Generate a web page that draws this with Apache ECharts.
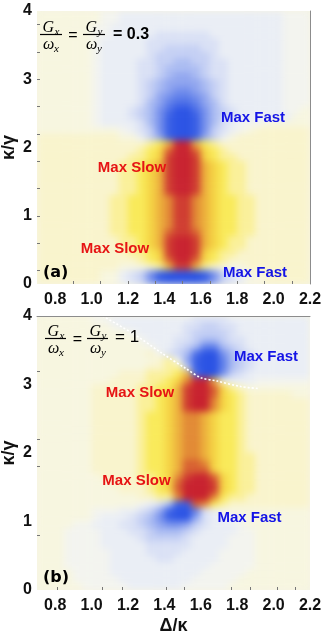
<!DOCTYPE html>
<html>
<head>
    <meta charset="utf-8">
    <script src="https://cdn.jsdelivr.net/npm/echarts@6/dist/echarts.min.js"></script>
    <style>
        html, body { margin: 0; padding: 0; background: #fff; }
        #stage { position: relative; width: 327px; height: 639px; }
        .panel { position: absolute; overflow: hidden; background: #f5f4e4; }
        .heat { width: 100%; height: 100%; filter: blur(3.5px); }
        #main { position: absolute; left: 0; top: 0; width: 327px; height: 639px; }
    </style>
</head>
<body>
<div id="stage">
    <div class="panel" style="left: 37px; top: 11px; width: 273px; height: 273px;"><div id="heatA" class="heat"></div></div>
    <div class="panel" style="left: 37px; top: 316px; width: 273px; height: 274px;"><div id="heatB" class="heat"></div></div>
    <div id="main"></div>
</div>
<script type="text/javascript">
    // axis labels and frame ticks (Δ/κ horizontally, κ/γ vertically)
    var xLabels = [0.8, 1.0, 1.2, 1.4, 1.6, 1.8, 2.0, 2.2];
    var yLabels = [0, 1, 2, 3, 4];
    var xTicksA = [0.9, 1.05, 1.2, 1.35, 1.5, 1.65, 1.8, 1.95, 2.1];
    var yTicksA = [0.2, 0.6, 1.0, 1.4, 1.8, 2.2, 2.6, 3.0, 3.4, 3.8];
    var xTicksB = [0.81, 1.06, 1.17, 1.41, 1.51, 1.77, 1.87, 2.02, 2.12];
    var yTicksB = [0.8, 1.8, 2.2, 3.2];

    // one cell = 0.05 in Δ/κ by 0.1 in κ/γ, top row is κ/γ = 3.95
    // a..j = fast (blue, -1..-10), 0 = neutral, 1..9,X = slow (yellow -> red, 1..10)
    var fieldA = [
        '11111 1100a aaaaa aaaaa aaaaa aa000',
        '11111 1100a aaaaa aaaaa aaaaa aa000',
        '11111 100aa aaaaa aaaaa aaaaa aa000',
        '11111 100aa aaabb bbbba aaaaa aa000',
        '11111 10aaa aabbb bbbbb aaaaa aa000',
        '11111 10aaa aabbc cccbb aaaaa aa000',
        '11111 10aaa aabcc ccccb aaaaa aa000',
        '11111 10aaa abbcc ddccb baaaa aa000',
        '11111 10aaa abbcd dddcb baaaa aa000',
        '11111 10aaa abbcd eedcb baaaa aa000',
        '11111 10aaa abcde eeedc baaaa aa000',
        '11111 10aaa abcde ffedc baaaa aa000',
        '11111 10aaa abcef ggfec baaaa aa000',
        '11111 10aaa abdeg hhged baaaa aa000',
        '11111 10aaa bcdfh jjhfd cbaaa aa001',
        '11111 10aaa bcdfi jjifd cbaaa aaa11',
        '11111 10aaa abdfi jjifd ba000 11111',
        '11111 11110 abcfi jjifc ba012 22222',
        '22222 22221 1acei jjiec a1222 22222',
        '22222 22222 22346 XX643 22222 22222',
        '22222 22222 23458 XX854 32222 22222',
        '22222 22222 33459 XX954 33222 22222',
        '22222 22223 34569 XX965 43322 22222',
        '22222 22223 34569 XX965 43322 22222',
        '22222 22223 34569 XX965 43322 22222',
        '22222 22223 34569 XX965 43322 22222',
        '22222 22223 34569 XX965 43322 22222',
        '22222 22233 44567 99765 44332 22222',
        '22222 22233 44567 99765 44332 22222',
        '22222 22233 44567 99765 44332 22222',
        '22222 22233 44567 99765 44332 22222',
        '22222 22233 44567 99765 44332 22222',
        '22222 22233 44568 99865 44332 22222',
        '22222 22223 34569 XX965 43322 22222',
        '22222 22223 34569 XX965 43322 22222',
        '22222 22222 33459 XX954 33222 22222',
        '22222 22222 23458 XX854 32222 22222',
        '22222 22221 11236 99632 11122 22222',
        '22222 2211a bcfij jjjif cba11 22222',
        '22222 2211a bcfij jjjif cba11 22222'
    ];
    var fieldB = [
        '11111 100aa aaaaa aabbb baaaa aaaaa',
        '11111 1110a aaaaa abbcc bbaaa aaaaa',
        '11111 11111 0aaaa abccc cbaaa aaaaa',
        '11111 11111 10aaa bbcdd cbbaa aaaaa',
        '11111 11111 110aa bcdgg dcbaa aaaaa',
        '11111 11111 1120b cdhjj fdcba aaaaa',
        '11111 11111 11123 0eijj gdcba aaaaa',
        '11111 11111 11223 3cijj gdcba aaaaa',
        '11111 11112 22333 46hjj fcbaa aaaaa',
        '11111 11122 22334 57XX6 1aaa0 00000',
        '11111 12222 23344 69XX8 53211 11111',
        '11111 12222 23345 69XX8 54322 22211',
        '11111 12222 23345 69XX7 54322 22222',
        '11111 12222 23345 69XX7 54322 22222',
        '11111 12222 23445 67765 44322 22222',
        '11111 12222 23445 67765 44322 22222',
        '11111 12222 23445 67765 44322 22222',
        '11111 12222 23445 67765 44322 22222',
        '11111 12222 23445 67765 44322 22222',
        '11111 12222 23445 67765 44322 22222',
        '11111 12222 23445 67765 44332 22222',
        '11111 12222 23445 68875 44332 22222',
        '11111 12222 23445 68885 44332 22222',
        '11111 11222 23345 79XX8 54332 22222',
        '11111 11122 22345 8XXX9 54332 22222',
        '11111 11112 22345 8XXX9 54332 22222',
        '11111 11111 12233 7XXX7 43322 22222',
        '11111 11111 10abd ii874 32222 22222',
        '11111 1000a abcei jjgba 01111 11111',
        '11111 10aaa bcdfi jjeba a0111 11111',
        '11110 0aaab bcdef fecba aa011 11111',
        '11100 00aaa bbcdd dcbaa aa001 11111',
        '11100 00aaa abccc cbaaa a0001 11111',
        '11100 00aaa aabbb bbaaa a0001 11111',
        '11100 000aa aabbb baaaa 00001 11111',
        '11100 000aa aaabb aaaaa 00001 11111',
        '11100 000aa aaaaa aaaa0 00001 11111',
        '11110 000aa aaaaa aaa00 00011 11111',
        '11110 0000a aaaaa aa000 00111 11111',
        '11111 00000 aaaaa a0000 01111 11111'
    ];

    // white dotted cut in panel (b)
    var cutX = [1.06, 1.23, 1.39, 1.52, 1.60, 1.69, 1.82, 1.92];
    var cutY = [4.00, 3.74, 3.45, 3.23, 3.10, 3.05, 2.97, 2.94];

    var levelKey = 'jihgfedcba0123456789X';
    var palette = ['#2b53e4', '#3a60e5', '#4c6ee7', '#6181ea', '#7892ec', '#91a6ef', '#abbcf2',
        '#c5d0f4', '#dae1f5', '#eaeef5', '#f3f4ef', '#f7f6e0', '#f9f4cd', '#faf09a', '#f9ea5a',
        '#f5d545', '#edb23c', '#e28a35', '#d86131', '#cf3c30', '#c8222f'];

    function heatData(rows) {
        var out = [];
        rows.forEach(function (row, k) {
            var cells = row.replace(/ /g, '');
            for (var i = 0; i < cells.length; i++) {
                out.push([i, rows.length - 1 - k, levelKey.indexOf(cells[i]) - 10]);
            }
        });
        return out;
    }

    var colCats = [], rowCats = [];
    for (var i = 0; i < 30; i++) colCats.push(String(i));
    for (var j = 0; j < 40; j++) rowCats.push(String(j));

    // the colour field of each panel, drawn under the axes and softened by the css blur
    function makeHeat(domId, rows) {
        var heat = echarts.init(document.getElementById(domId));
        heat.setOption({
            animation: false,
            grid: {left: 0, right: 0, top: 0, bottom: 0, outerBoundsMode: 'none'},
            xAxis: {type: 'category', data: colCats, show: false},
            yAxis: {type: 'category', data: rowCats, show: false},
            visualMap: {show: false, type: 'continuous', min: -10, max: 10, inRange: {color: palette}},
            series: [{type: 'heatmap', data: heatData(rows), silent: true, progressive: 0}]
        });
        return heat;
    }
    makeHeat('heatA', fieldA);
    makeHeat('heatB', fieldB);

    var labelFont = {fontFamily: 'Liberation Sans', fontSize: 16, fontWeight: 'bold', color: '#111'};
    var nameFont = {fontFamily: 'Liberation Sans', fontSize: 18, fontWeight: 'bold', color: '#111'};

    function xValue(gridIndex, ticks, name) {
        return {
            type: 'value', gridIndex: gridIndex, min: 0.7, max: 2.2, position: 'bottom', z: 10,
            axisLine: {show: false, onZero: false},
            axisTick: {show: true, inside: true, length: 3, customValues: ticks, lineStyle: {color: '#777'}},
            axisLabel: Object.assign({
                customValues: xLabels, margin: 8,
                formatter: function (v) { return v.toFixed(1); }
            }, labelFont),
            splitLine: {show: false},
            name: name, nameLocation: 'middle', nameGap: 27, nameMoveOverlap: false, nameTextStyle: nameFont
        };
    }

    function yValue(gridIndex, ticks) {
        return {
            type: 'value', gridIndex: gridIndex, min: 0, max: 4, position: 'left', z: 10,
            axisLine: {show: false, onZero: false},
            axisTick: {show: true, inside: true, length: 3, customValues: ticks, lineStyle: {color: '#777'}},
            axisLabel: Object.assign({customValues: yLabels, margin: 5}, labelFont),
            splitLine: {show: false},
            name: 'κ/γ', nameLocation: 'middle', nameGap: 19, nameMoveOverlap: false, nameTextStyle: nameFont
        };
    }

    function frameLine(type, gridIndex, pos) {
        var ax = {
            type: 'value', gridIndex: gridIndex, position: pos, z: 10,
            axisLine: {show: true, onZero: false, lineStyle: {color: '#8c8c8c', width: 1}},
            axisTick: {show: false}, axisLabel: {show: false}, splitLine: {show: false}
        };
        if (type === 'x') { ax.min = 0.7; ax.max = 2.2; } else { ax.min = 0; ax.max = 4; }
        return ax;
    }

    function txt(text, x, y, o) {
        o = o || {};
        return {
            type: 'text', x: x, y: y, z: 100, silent: true,
            style: {
                text: text, fill: o.color || '#000',
                fontSize: o.size || 15, fontWeight: o.weight || 'normal',
                fontStyle: o.italic ? 'italic' : 'normal',
                fontFamily: o.family || 'Liberation Sans',
                align: o.align || 'left', textAlign: o.align || 'left',
                verticalAlign: 'middle', textVerticalAlign: 'middle'
            }
        };
    }

    function fraction(x0, yBar, w, sub) {
        var serif = 'Liberation Serif';
        return [
            txt('G', x0 + 2.5, yBar - 6.5, {size: 16, italic: true, family: serif}),
            txt(sub, x0 + 14.5, yBar - 2, {size: 11, italic: true, family: serif}),
            {type: 'rect', z: 100, silent: true, shape: {x: x0, y: yBar - 0.6, width: w, height: 1.2}, style: {fill: '#000'}},
            txt('ω', x0 + 3, yBar + 10.5, {size: 16, italic: true, family: serif}),
            txt(sub, x0 + 14, yBar + 15, {size: 11, italic: true, family: serif})
        ];
    }

    var blue = '#1414e6', red = '#e61414';
    var big = {size: 15, weight: 'bold', align: 'center'};
    function tag(text, x, y, color) {
        return txt(text, x, y, Object.assign({color: color}, big));
    }

    var graphics = []
        .concat(fraction(40, 34.5, 22, 'x'))
        .concat([txt('=', 73, 35.5, {size: 16, align: 'center'})])
        .concat(fraction(83, 34.5, 22, 'y'))
        .concat([txt('= 0.3', 113, 35, {size: 16, weight: 'bold'})])
        .concat(fraction(45, 338.5, 21, 'x'))
        .concat([txt('=', 77.5, 340, {size: 16, align: 'center'})])
        .concat(fraction(87, 338.5, 21, 'y'))
        .concat([txt('= 1', 115, 337, {size: 17})])
        .concat([
            tag('Max Fast', 253, 117.5, blue),
            tag('Max Slow', 132, 167.5, red),
            tag('Max Slow', 115, 249, red),
            tag('Max Fast', 255, 272.5, blue),
            txt('(a)', 43, 273, {size: 16, weight: 'bold', family: 'DejaVu Sans'}),
            tag('Max Fast', 266, 357, blue),
            tag('Max Slow', 140, 393, red),
            tag('Max Slow', 136.5, 480.5, red),
            tag('Max Fast', 249.5, 518, blue),
            txt('(b)', 43, 577.5, {size: 16, weight: 'bold', family: 'DejaVu Sans'})
        ]);

    var chart = echarts.init(document.getElementById('main'));
    var option = {
        backgroundColor: 'transparent',
        animation: false,
        grid: [
            {left: 37, top: 11, width: 273, height: 273, outerBoundsMode: 'none'},
            {left: 37, top: 316, width: 273, height: 274, outerBoundsMode: 'none'}
        ],
        xAxis: [
            xValue(0, xTicksA, ''),
            xValue(1, xTicksB, 'Δ/κ'),
            frameLine('x', 1, 'top')
        ],
        yAxis: [
            yValue(0, yTicksA),
            frameLine('y', 0, 'right'),
            yValue(1, yTicksB)
        ],
        series: [
            {
                type: 'line', xAxisIndex: 1, yAxisIndex: 2, silent: true, symbol: 'none', smooth: 0.3, z: 5,
                data: cutX.map(function (x, k) { return [x, cutY[k]]; }),
                lineStyle: {color: '#ffffff', width: 1.6, type: [2, 2]}
            }
        ],
        graphic: graphics
    };
    chart.setOption(option);
</script>
</body>
</html>
